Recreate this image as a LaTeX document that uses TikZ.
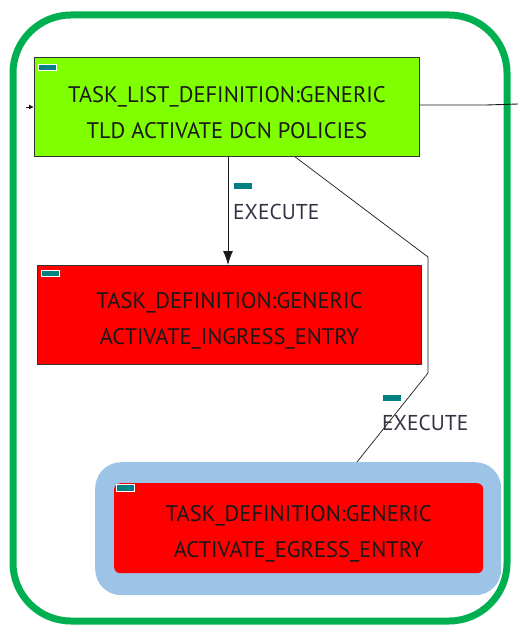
\documentclass[tikz,border=0pt]{standalone}
\usepackage{fontspec}
\setmainfont{PT Sans}
\usetikzlibrary{arrows.meta}
\definecolor{frameGreen}{HTML}{00B050}
\definecolor{tldGreen}{HTML}{80FF00}
\definecolor{taskRed}{HTML}{FF0000}
\definecolor{haloBlue}{HTML}{9DC3E6}
\definecolor{tagTeal}{HTML}{008080}
\definecolor{labelInk}{HTML}{333344}
\tikzset{
  boxtext/.style={font=\fontsize{22.5}{36}\selectfont, text=black!90, align=center},
  tag/.style={fill=tagTeal, draw=white, line width=0.6pt},
  link/.style={draw=black!90, line width=0.9pt},
  edgelabel/.style={font=\fontsize{21.5}{24}\selectfont, text=labelInk, anchor=west, inner sep=0pt}
}
\begin{document}
\begin{tikzpicture}[x=1pt,y=-1pt]
\useasboundingbox (0,0) rectangle (518,628);
% outer frame
\draw[frameGreen, line width=7pt, rounded corners=58pt] (13,15) rectangle (507,621);
% task list definition
\node[draw=black!80, fill=tldGreen, line width=0.8pt, minimum width=385pt, minimum height=99pt,
  anchor=north west, inner sep=0pt] (tld) at (34,57) {};
\node[boxtext] at ([yshift=-6pt]tld.center) {TASK\_LIST\_DEFINITION:GENERIC\\TLD ACTIVATE DCN POLICIES};
\draw[tag] (38,64) rectangle (56,70);
% first task
\node[draw=black!80, fill=taskRed, line width=0.8pt, minimum width=384pt, minimum height=99pt,
  anchor=north west, inner sep=0pt] (ingress) at (37,265) {};
\node[boxtext] at ([yshift=-6pt]ingress.center) {TASK\_DEFINITION:GENERIC\\ACTIVATE\_INGRESS\_ENTRY};
\draw[tag] (41,270) rectangle (59,276);
% second task, highlighted
\node[fill=haloBlue, rounded corners=26pt, minimum width=406pt, minimum height=133pt,
  anchor=north west, inner sep=0pt] (halo) at (95,462) {};
\node[fill=taskRed, rounded corners=6pt, minimum width=369pt, minimum height=90pt,
  anchor=north west, inner sep=0pt] (egress) at (114,483) {};
\node[boxtext] at ([yshift=-6pt]egress.center) {TASK\_DEFINITION:GENERIC\\ACTIVATE\_EGRESS\_ENTRY};
\draw[tag] (116,484) rectangle (134,491);
% connectors
\coordinate (entry) at (26,107);
\coordinate (exit) at (518,104);
\draw[link, -{Latex[length=5pt,width=5pt]}] (entry) -- (tld.west |- entry);
\draw[link] (tld.east |- 0,105) -- (486,105) -- (exit);
\draw[link, -{Latex[length=14pt,width=10pt]}] (tld.south -| 228,0) -- (ingress.north -| 228,0);
\coordinate (bendA) at (428,257);
\coordinate (bendB) at (428,373);
\draw[link, line width=0.7pt] (tld.south -| 295,0) -- (bendA) -- (bendB) -- (halo.north -| 357,0);
% edge labels
\fill[tagTeal] (234,183) rectangle (252,189);
\node[edgelabel] (lab1) at (233,212) {EXECUTE};
\fill[tagTeal] (383,395) rectangle (401,401);
\node[edgelabel] (lab2) at (382,423) {EXECUTE};
\end{tikzpicture}
\end{document}
